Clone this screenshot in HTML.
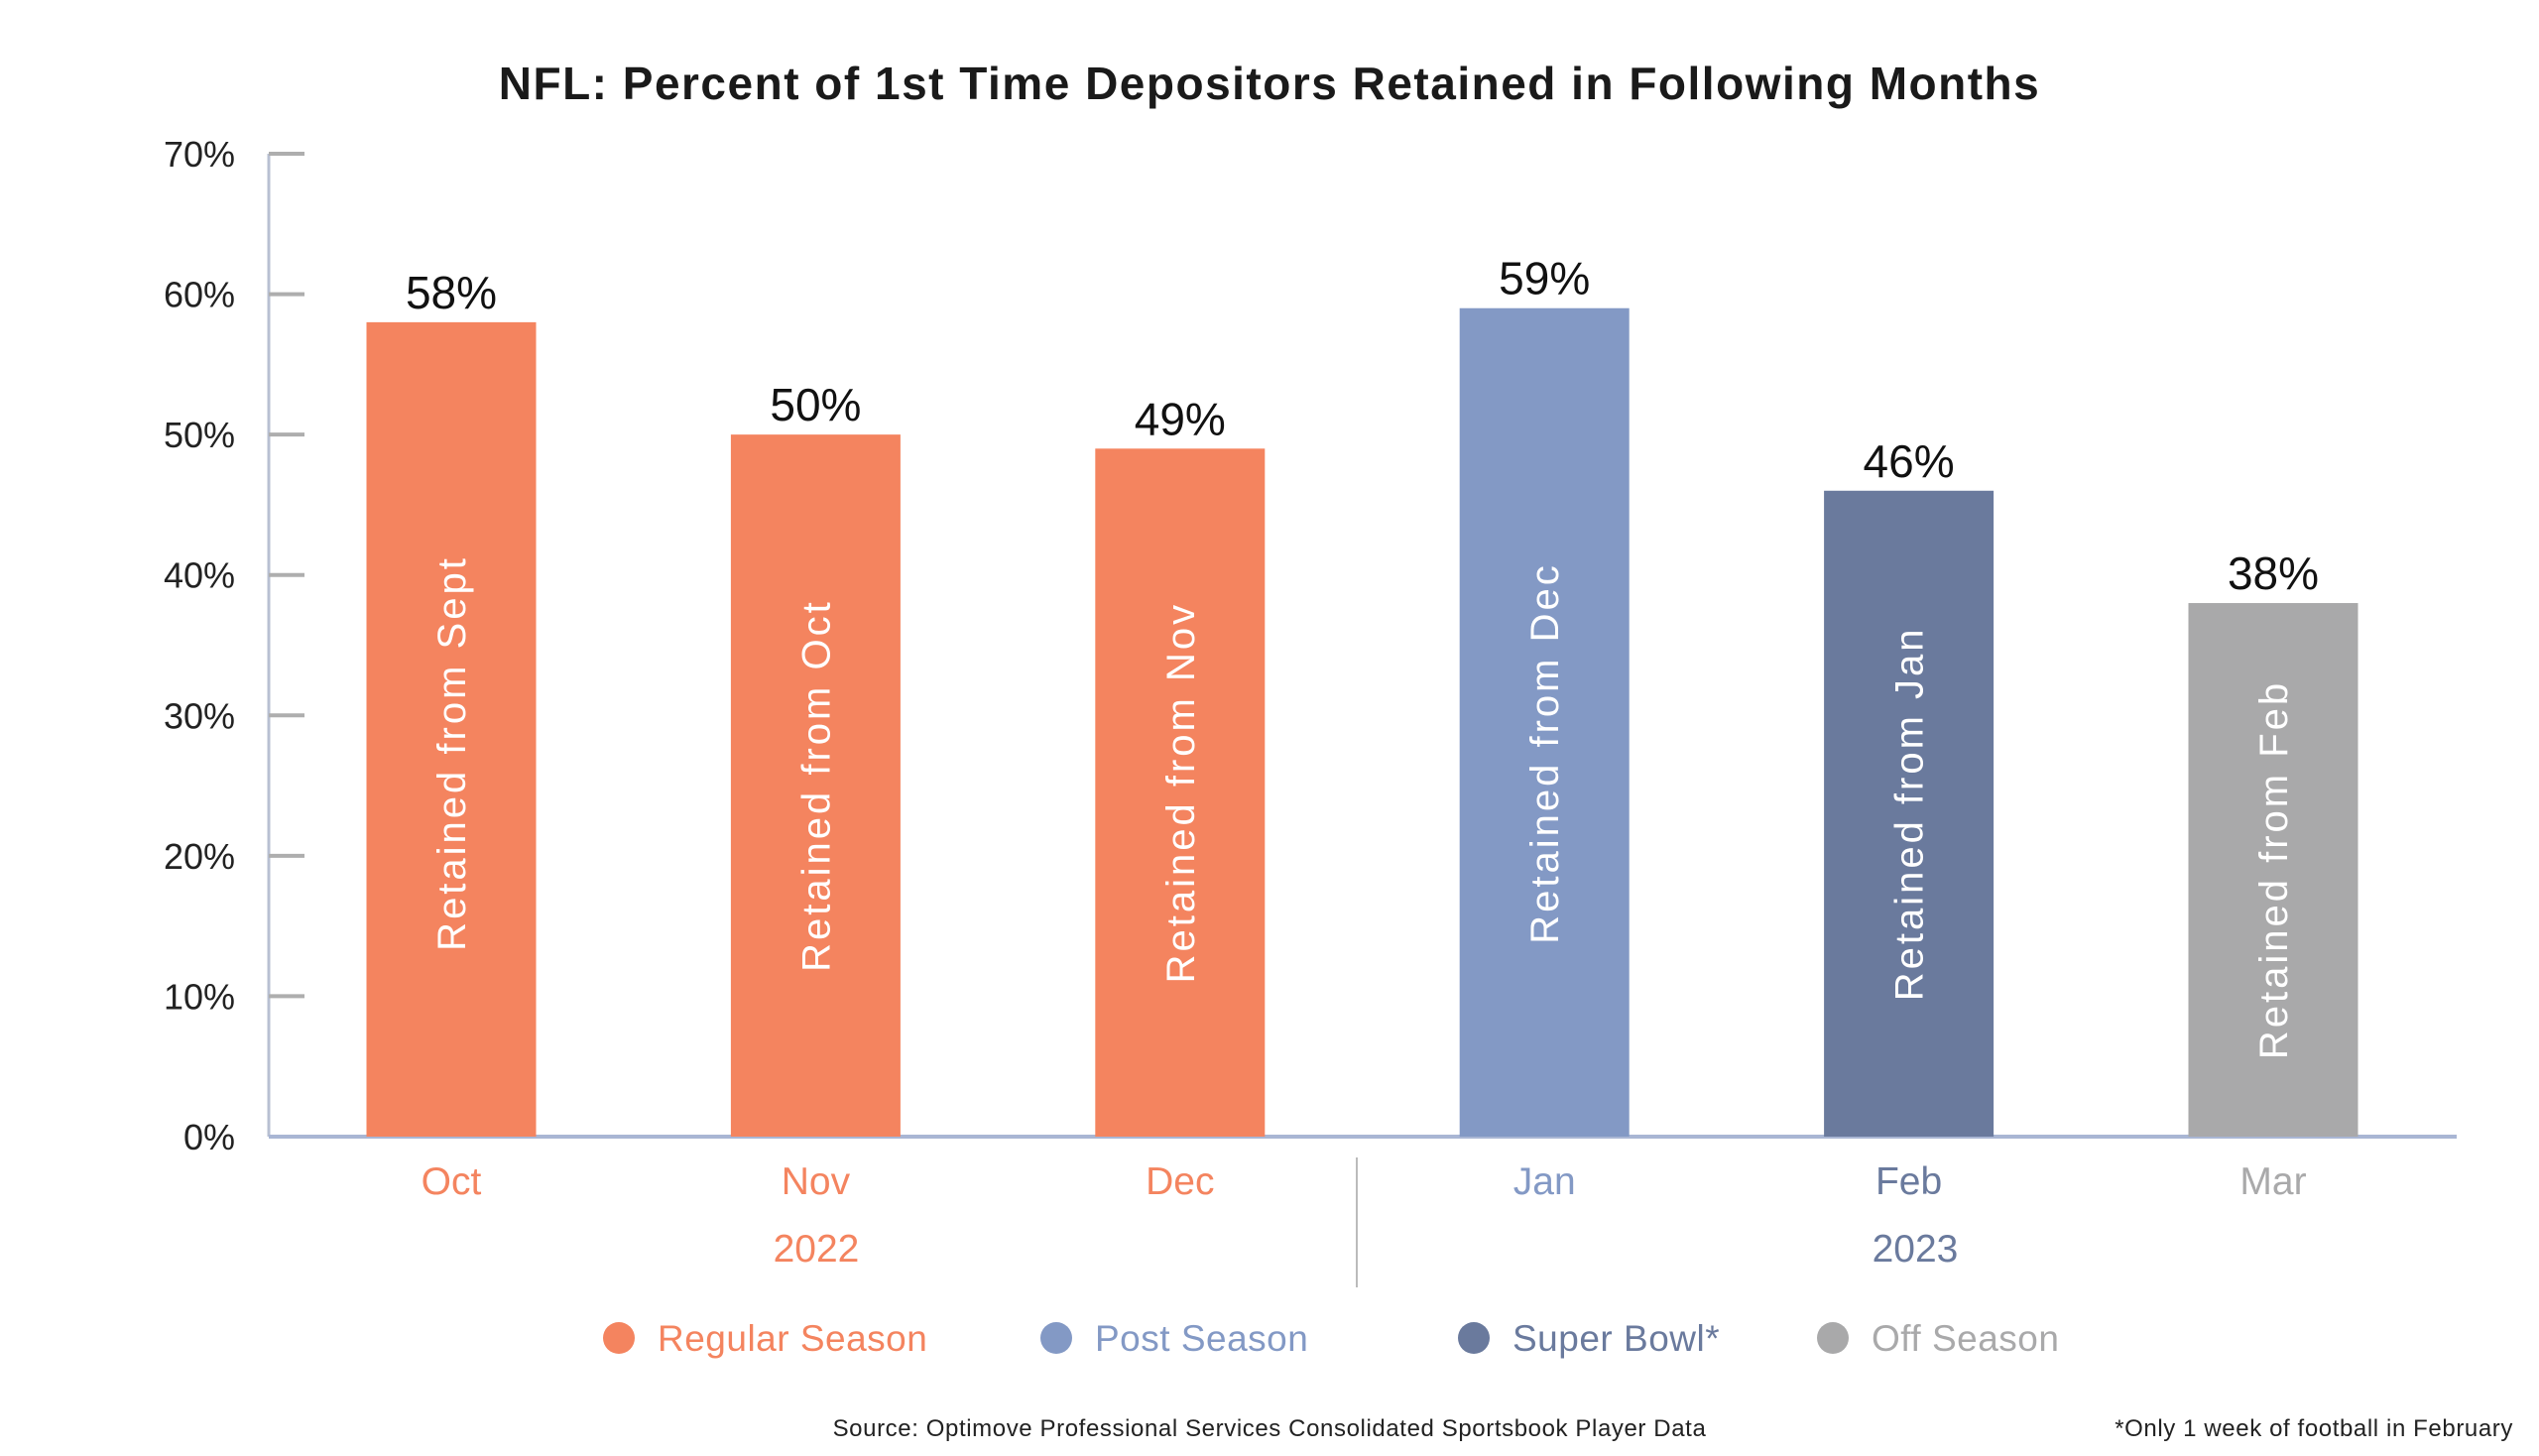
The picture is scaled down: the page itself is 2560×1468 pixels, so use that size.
<!DOCTYPE html>
<html><head><meta charset="utf-8"><style>
html,body{margin:0;padding:0;background:#fff;}
svg{display:block;font-family:"Liberation Sans",sans-serif;}
</style></head><body>
<svg id="chart" width="2560" height="1468" viewBox="0 0 2560 1468">
<text x="1280" y="100" text-anchor="middle" font-size="46" font-weight="bold" letter-spacing="1.5" fill="#1a1a1a">NFL: Percent of 1st Time Depositors Retained in Following Months</text>
<g id="axis"></g>
<g id="bars"></g>
<line x1="1368" y1="1167" x2="1368" y2="1298" stroke="#bbbbbb" stroke-width="2"/>
<text x="823" y="1272" text-anchor="middle" font-size="39" fill="#F4845F">2022</text>
<text x="1931" y="1272" text-anchor="middle" font-size="39" fill="#6A7A9D">2023</text>
<g>
<g><circle cx="624" cy="1349" r="16" fill="#F4845F"/><text x="663" y="1362" font-size="37" letter-spacing="0.5" fill="#F4845F">Regular Season</text></g>
<g><circle cx="1065" cy="1349" r="16" fill="#8399C5"/><text x="1104" y="1362" font-size="37" letter-spacing="0.5" fill="#8399C5">Post Season</text></g>
<g><circle cx="1486" cy="1349" r="16" fill="#6A7A9D"/><text x="1525" y="1362" font-size="37" letter-spacing="0.5" fill="#6A7A9D">Super Bowl*</text></g>
<g><circle cx="1848" cy="1349" r="16" fill="#A9A9AA"/><text x="1887" y="1362" font-size="37" letter-spacing="0.5" fill="#A9A9AA">Off Season</text></g>
</g>
<text x="1280" y="1448" text-anchor="middle" font-size="24" letter-spacing="0.6" fill="#222">Source: Optimove Professional Services Consolidated Sportsbook Player Data</text>
<text x="2534" y="1448" text-anchor="end" font-size="24" letter-spacing="0.6" fill="#222">*Only 1 week of football in February</text>
</svg>
<script>
const categories = ["Oct","Nov","Dec","Jan","Feb","Mar"];
const values = [58,50,49,59,46,38];
const innerLabels = ["Retained from Sept","Retained from Oct","Retained from Nov","Retained from Dec","Retained from Jan","Retained from Feb"];
const seasons = ["regular","regular","regular","post","superbowl","off"];
const yTicks = [0,10,20,30,40,50,60,70];

const NS="http://www.w3.org/2000/svg";
const colorMap={regular:"#F4845F",post:"#8399C5",superbowl:"#6A7A9D",off:"#A9A9AA"};
const y0=1146, y1=155, vMax=70;
function ys(v){return y0-(v/vMax)*(y0-y1);}
const xStart=455, step=367.4, bw=171;
function xs(i){return xStart+i*step;}
function mk(tag,attrs,parent){const e=document.createElementNS(NS,tag);for(const k in attrs)e.setAttribute(k,attrs[k]);parent.appendChild(e);return e;}

const axis=document.getElementById('axis');
const bars=document.getElementById('bars');
mk('line',{x1:271,y1:y1,x2:271,y2:y0,stroke:'#B8C0D2','stroke-width':3},axis);
yTicks.forEach(t=>{
  const l=mk('line',{x1:271,y1:ys(t),x2:307,y2:ys(t),stroke:'#AEAEAE','stroke-width':4},axis);
  
  
  const tx=mk('text',{x:237,y:ys(t)+13,'text-anchor':'end','font-size':36,fill:'#222'},axis);
  tx.textContent=t+'%';
  
  
});
values.forEach((v,i)=>{
  const cx=xs(i), col=colorMap[seasons[i]];
  const r=mk('rect',{x:cx-bw/2,y:ys(v),width:bw,height:y0-ys(v),fill:col},bars);
  
  
  const vl=mk('text',{x:cx,y:ys(v)-14,'text-anchor':'middle','font-size':46,fill:'#111'},bars);
  vl.textContent=v+'%';
  
  
  const cy=ys(Math.min(v/2,27.3));
  const il=mk('text',{x:0,y:0,'text-anchor':'middle','font-size':40,'letter-spacing':3,fill:'#fff',transform:`translate(${cx+14},${cy}) rotate(-90)`},bars);
  il.textContent=innerLabels[i];
  
  
  const ml=mk('text',{x:cx,y:1204,'text-anchor':'middle','font-size':39,fill:col},bars);
  ml.textContent=categories[i];
  
  
});
const base=mk('line',{x1:271,y1:y0,x2:2477,y2:y0,stroke:'#A9B6D4','stroke-width':4},axis);


</script>
</body></html>
